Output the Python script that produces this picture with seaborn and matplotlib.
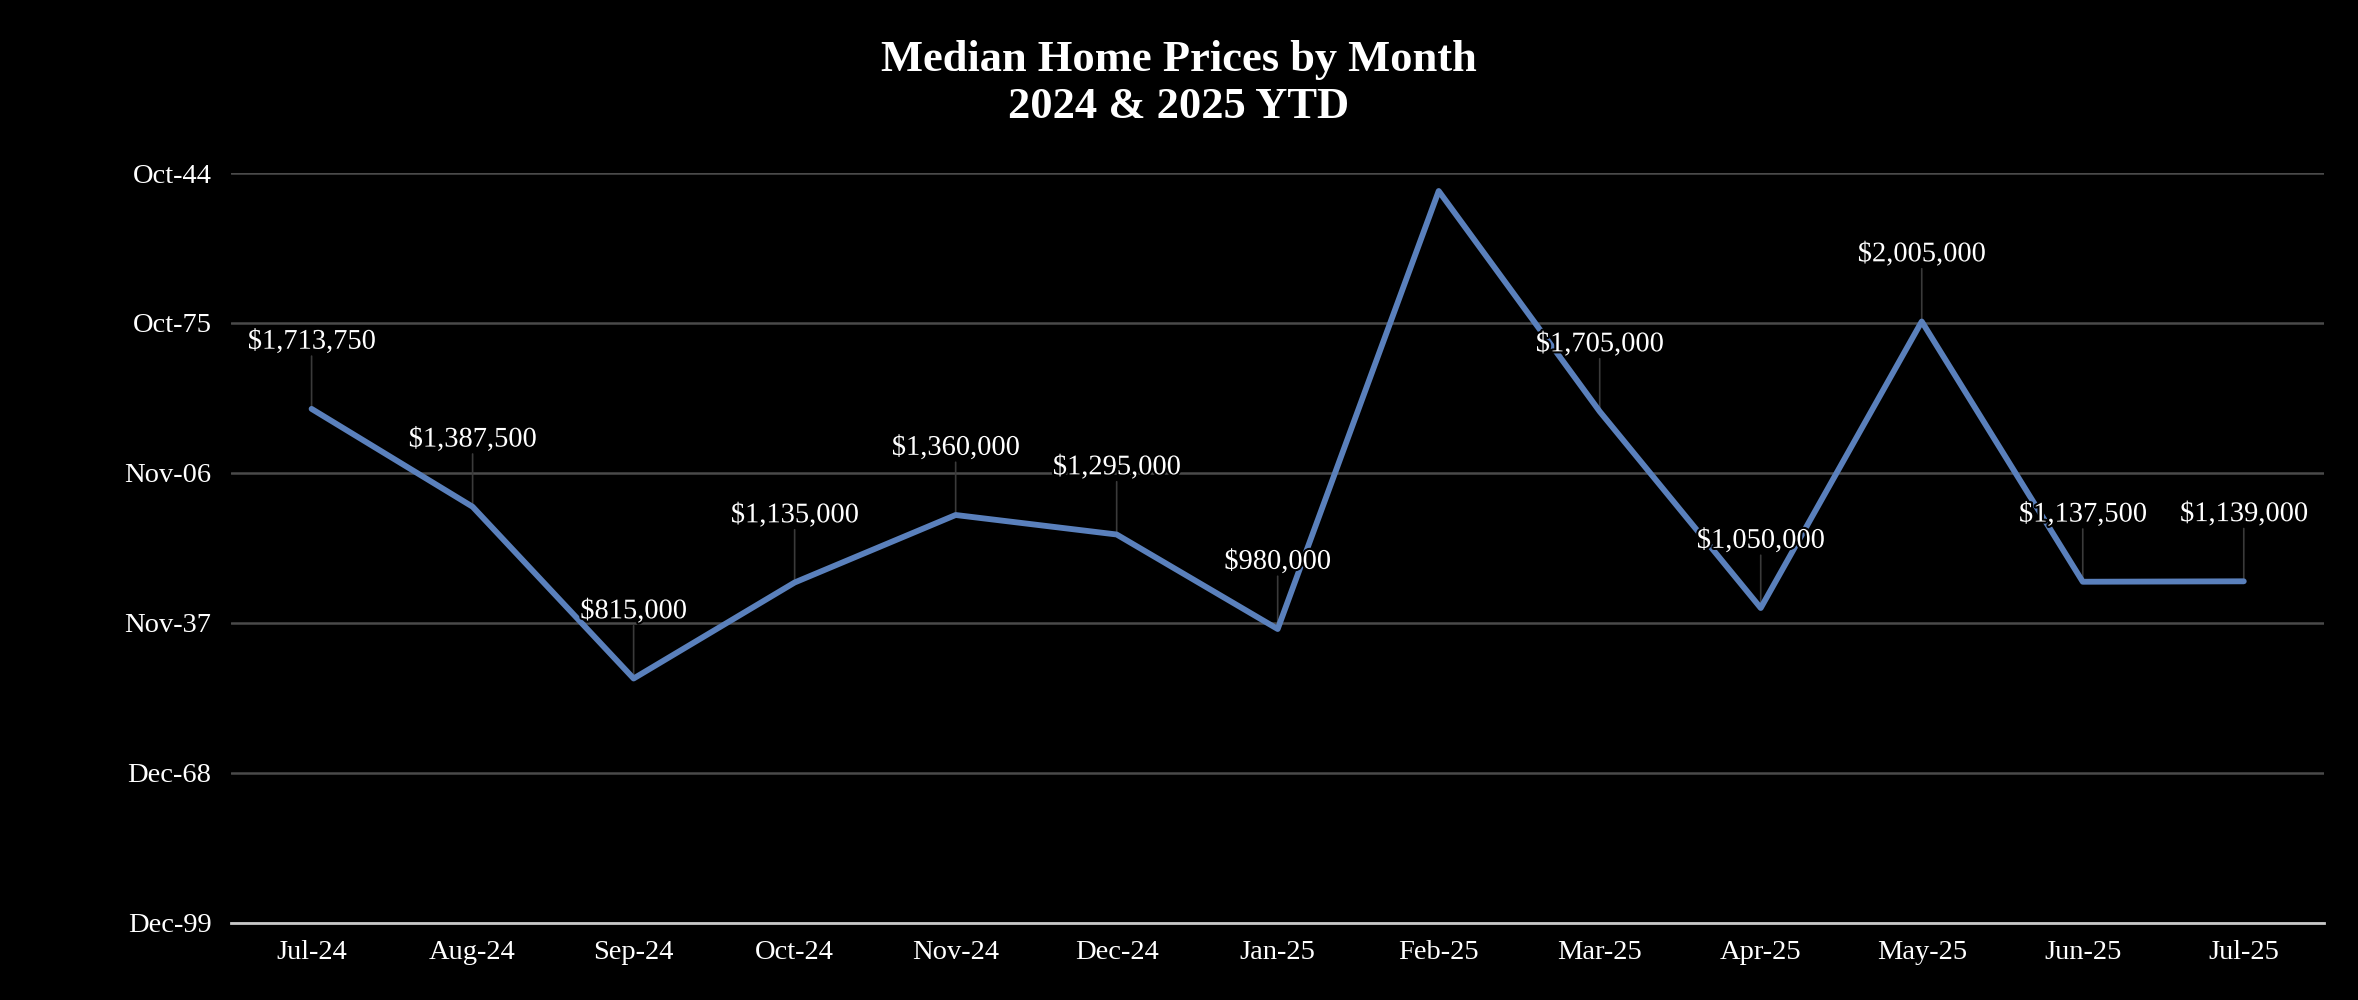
import pandas as pd
import matplotlib
matplotlib.use("Agg")
import matplotlib.pyplot as plt
import matplotlib.patheffects as pe
import seaborn as sns

months = ["Jul-24", "Aug-24", "Sep-24", "Oct-24", "Nov-24", "Dec-24", "Jan-25",
          "Feb-25", "Mar-25", "Apr-25", "May-25", "Jun-25", "Jul-25"]
prices = [1713750, 1387500, 815000, 1135000, 1360000, 1295000, 980000,
          2440000, 1705000, 1050000, 2005000, 1137500, 1139000]
# Feb-25 label is not shown in the original
labels = ["$1,713,750", "$1,387,500", "$815,000", "$1,135,000", "$1,360,000",
          "$1,295,000", "$980,000", None, "$1,705,000", "$1,050,000",
          "$2,005,000", "$1,137,500", "$1,139,000"]

# y axis uses Excel's date format on the raw numbers
y_ticks = [0, 500000, 1000000, 1500000, 2000000, 2500000]
y_tick_labels = ["Dec-99", "Dec-68", "Nov-37", "Nov-06", "Oct-75", "Oct-44"]

df = pd.DataFrame({"month": months, "price": prices})

sns.set_style("dark")
plt.rcParams["font.family"] = ["Liberation Serif", "DejaVu Serif"]

fig = plt.figure(figsize=(23.58, 10), dpi=100, facecolor="black")
ax = fig.add_axes([0.098, 0.077, 0.8877, 0.75])
ax.set_facecolor("black")

sns.lineplot(data=df, x="month", y="price", sort=False, color="#5A80BC",
             linewidth=4.2, ax=ax, zorder=3)

for i, (v, lab) in enumerate(zip(prices, labels)):
    if lab is None:
        continue
    ax.annotate("", xy=(i, v), xytext=(0, 38), textcoords="offset points",
                arrowprops=dict(arrowstyle="-", color="#3a3a3a", lw=1.2,
                                shrinkA=0, shrinkB=0), zorder=2)
    ax.annotate(lab, xy=(i, v), xytext=(0, 48), textcoords="offset points",
                ha="center", va="center", color="white", fontsize=20.5, zorder=4,
                path_effects=[pe.withStroke(linewidth=3, foreground="black")])

ax.set_xlim(-0.5, 12.5)
ax.set_ylim(0, 2500000)
ax.set_yticks(y_ticks)
ax.set_yticklabels(y_tick_labels)
ax.set_xlabel("")
ax.set_ylabel("")
ax.tick_params(axis="both", colors="white", labelsize=20.5, length=0)
ax.tick_params(axis="y", pad=14)
ax.tick_params(axis="x", pad=12)

ax.grid(axis="y", color="#4a4a4a", linewidth=1.8)
ax.grid(axis="x", visible=False)
for side in ["top", "right", "left"]:
    ax.spines[side].set_visible(False)
ax.spines["bottom"].set_color("#c8c8c8")
ax.spines["bottom"].set_linewidth(2)

fig.text(0.5, 0.940, "Median Home Prices by Month", ha="center", va="center",
         color="white", fontsize=32, fontweight="bold")
fig.text(0.5, 0.893, "2024 & 2025 YTD", ha="center", va="center",
         color="white", fontsize=32, fontweight="bold")

fig.savefig("out.png", dpi=100, facecolor="black")
